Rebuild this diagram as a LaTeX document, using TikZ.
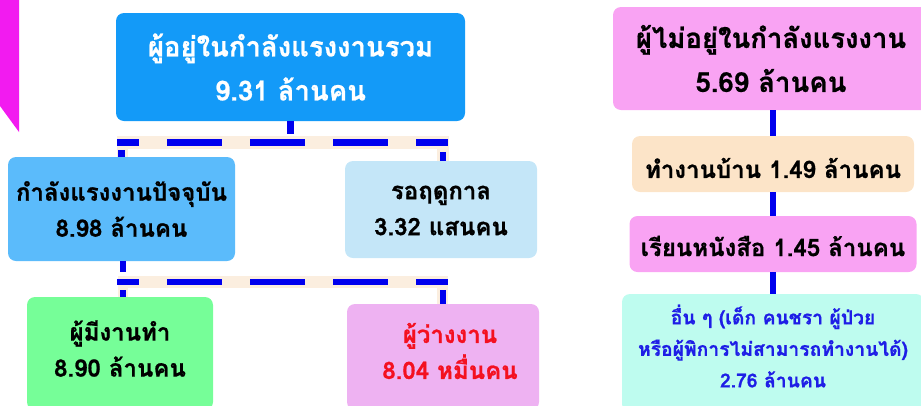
\documentclass[tikz,border=0pt]{standalone}
\usepackage{fontspec}
\newfontfamily\thai[Script=Thai, BoldFeatures={FakeBold=0.8}]{Loma}
\definecolor{cTop}{HTML}{139AF8}
\definecolor{cCur}{HTML}{5BBBFB}
\definecolor{cSea}{HTML}{C4E6F8}
\definecolor{cEmp}{HTML}{76FE98}
\definecolor{cUne}{HTML}{EEB2F2}
\definecolor{cPink}{HTML}{F9A3F3}
\definecolor{cHouse}{HTML}{FCE4C8}
\definecolor{cOther}{HTML}{BEFCEF}
\definecolor{cBand}{HTML}{FBEEDF}
\definecolor{cLine}{HTML}{0000EE}
\definecolor{cRed}{HTML}{F41020}
\definecolor{cBlueTxt}{HTML}{1E1EE6}
\definecolor{cMag}{HTML}{F21BF0}
\begin{document}
\begin{tikzpicture}[x=1pt,y=-1pt,
  box/.style={rounded corners=8pt, inner sep=0pt},
  txt/.style={inner sep=0pt, align=center, text=black},
  big/.style={font={\thai\bfseries\fontsize{27.5pt}{44pt}\selectfont}},
  mid/.style={font={\thai\bfseries\fontsize{24pt}{36pt}\selectfont}},
  small/.style={font={\thai\bfseries\fontsize{19.3pt}{31.5pt}\selectfont}},
  blueline/.style={draw=cLine, line width=6.5pt},
  dashline/.style={draw=cLine, line width=6.5pt, dash pattern=on 55pt off 28pt, dash phase=33pt},
  band/.style={fill=cBand}]
\useasboundingbox (0,0) rectangle (921,405);
\clip (0,0) rectangle (921,405);
% decoration at left edge
\fill[cMag] (0,0) -- (19,0) -- (19,132) -- (0,106) -- cycle;
% boxes
\node[box, fill=cTop, minimum width=349pt, minimum height=108pt] (top) at (290.5,67) {};
\node[txt, big, text=white] (topT) at (top.center) {ผู้อยู่ในกำลังแรงงานรวม\\9.31 ล้านคน};
\node[box, fill=cCur, minimum width=227pt, minimum height=104pt] (cur) at (121.5,209) {};
\node[txt, mid] (curT) at (cur.center) {กำลังแรงงานปัจจุบัน\\8.98 ล้านคน};
\node[box, fill=cSea, minimum width=192pt, minimum height=97pt] (sea) at (441,209.5) {};
\node[txt, mid] (seaT) at ([yshift=-1pt]sea.center) {รอฤดูกาล\\3.32 แสนคน};
\node[box, fill=cEmp, minimum width=186pt, minimum height=113pt] (emp) at (120,353.5) {};
\node[txt, mid] (empT) at ([yshift=5pt]emp.center) {ผู้มีงานทำ\\8.90 ล้านคน};
\node[box, fill=cUne, minimum width=192pt, minimum height=106pt] (une) at (443,357) {};
\node[txt, mid, text=cRed] (uneT) at ([xshift=7pt,yshift=6pt]une.center) {ผู้ว่างงาน\\8.04 หมื่นคน};
\node[box, fill=cPink, minimum width=320pt, minimum height=103pt] (notlf) at (773,58.5) {};
\node[txt, big] (notlfT) at ([xshift=-2pt]notlf.center) {ผู้ไม่อยู่ในกำลังแรงงาน\\5.69 ล้านคน};
\node[box, fill=cHouse, minimum width=282pt, minimum height=56pt] (house) at (773,164) {};
\node[txt, mid] (houseT) at ([yshift=-4pt]house.center) {ทำงานบ้าน 1.49 ล้านคน};
\node[box, fill=cPink, minimum width=287pt, minimum height=56pt] (study) at (773,244) {};
\node[txt, mid] (studyT) at ([yshift=-2pt]study.center) {เรียนหนังสือ 1.45 ล้านคน};
\node[box, fill=cOther, minimum width=302pt, minimum height=118pt] (other) at (773,353) {};
\node[txt, small, text=cBlueTxt] (otherT) at ([yshift=7pt]other.center) {อื่น ๆ (เด็ก คนชรา ผู้ป่วย\\หรือผู้พิการไม่สามารถทำงานได้)\\2.76 ล้านคน};
% right connectors
\draw[blueline] (notlf.south) -- (house.north);
\draw[blueline] (house.south) -- (study.north);
\draw[blueline] (study.south) -- (other.north);
% first dashed connector
\fill[band] (117,136) rectangle (449,149);
\fill[band] (117,149) rectangle (128,157);
\fill[band] (437,149) rectangle (449,161);
\draw[blueline] (top.south) -- ++(0,13);
\draw[dashline] (117,142.5) coordinate (b1l) -- (448,142.5) coordinate (b1r);
\draw[blueline] (cur.north) -- ++(0,-7);
\draw[blueline] ([xshift=2pt]sea.north) -- ++(0,-9);
% second dashed connector
\fill[band] (118,276) rectangle (448,288);
\fill[band] (118,288) rectangle (128,297);
\fill[band] (437,288) rectangle (448,304);
\draw[blueline] ([xshift=1.5pt]cur.south) -- ++(0,11);
\draw[dashline] (117,282) coordinate (b2l) -- (448,282) coordinate (b2r);
\draw[blueline] ([xshift=3pt]emp.north) -- ++(0,-7);
\draw[blueline] (une.north) -- ++(0,-14);
\end{tikzpicture}
\end{document}
